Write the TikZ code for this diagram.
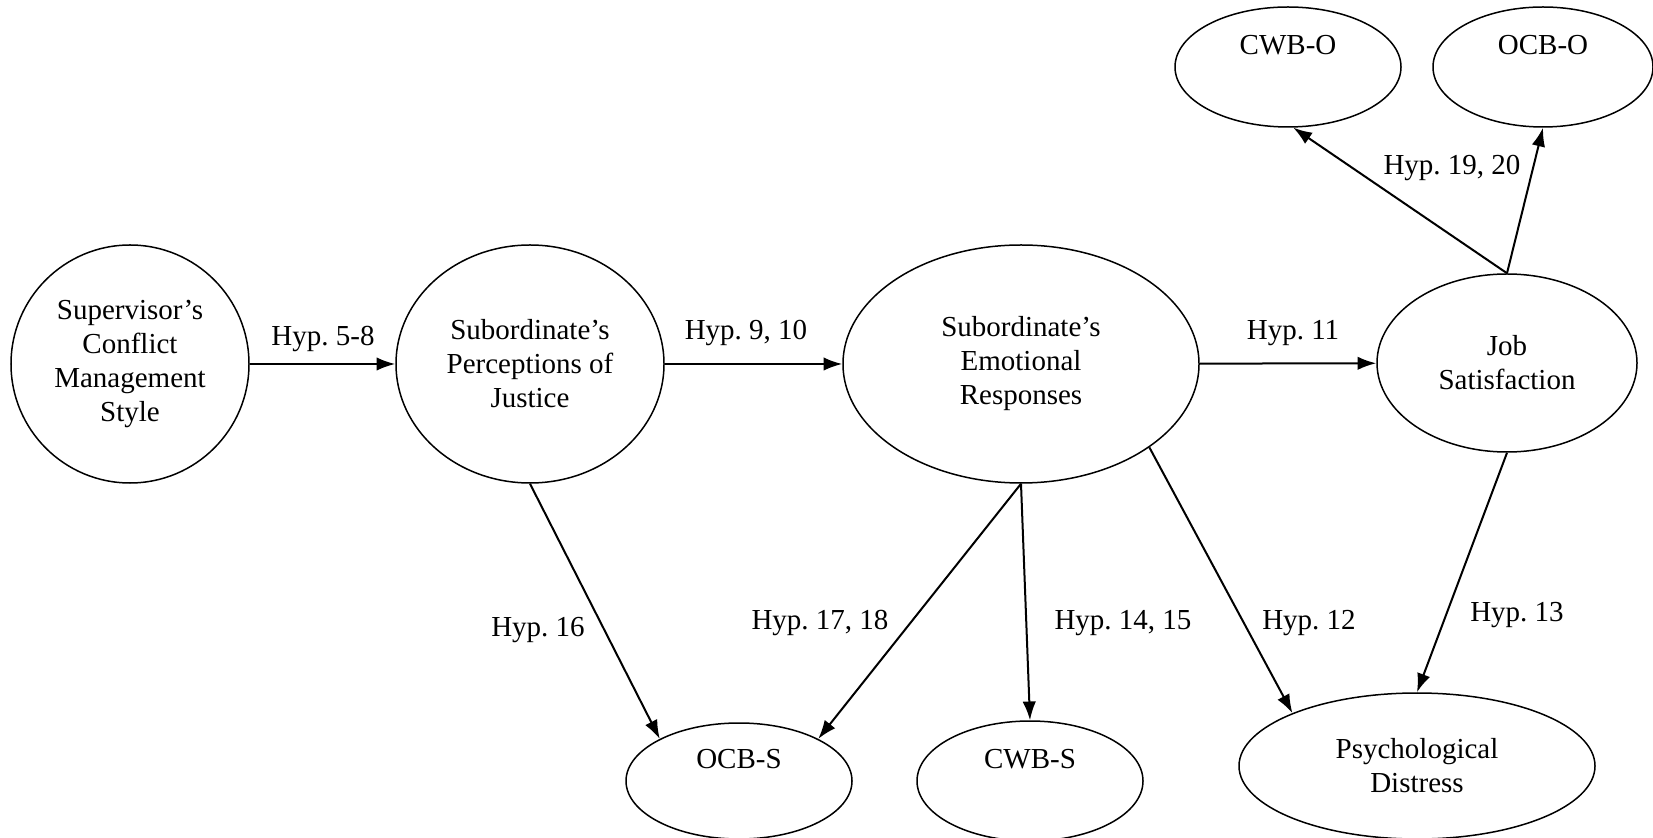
\documentclass[tikz,border=0pt]{standalone}
\usepackage{fontspec}
\setmainfont{Liberation Serif}
\usetikzlibrary{shapes.geometric,arrows.meta}
\frenchspacing

\begin{document}
\begin{tikzpicture}
                [x=0.4pt,y=-0.4pt,>={Latex[length=7.5pt,width=5.4pt]},
                 var/.style={draw,ellipse,line width=0.6pt,inner sep=0pt,align=center,font=\fontsize{11.6}{13.6}\selectfont},
                 ell/.style 2 args={minimum width=#1,minimum height=#2},
                 hyp/.style={font=\fontsize{11.6}{13.6}\selectfont},
                 arr/.style={->,line width=0.8pt}]

                \useasboundingbox (0,0) rectangle (1653,838);

                % main chain
                \node[var,ell={95.2pt}{95.2pt}] (sup) at (130,364) {Supervisor’s\\Conflict\\Management\\Style};
                \node[var,ell={107.2pt}{95.2pt}] (perc) at (530,364) {Subordinate’s\\Perceptions of\\Justice};
                \node[var,ell={142.4pt}{95.2pt}] (emo) at (1021,364) {Subordinate’s\\Emotional\\Responses};
                \node[var,ell={104pt}{71.2pt}] (job) at (1507,363) {Job\\Satisfaction};

                % outcomes
                \node[var,ell={90.4pt}{48pt}] (cwbo) at (1288,67) {CWB-O\\\strut};
                \node[var,ell={88pt}{48pt}] (ocbo) at (1543,67) {OCB-O\\\strut};
                \node[var,ell={90.4pt}{46.4pt}] (ocbs) at (739,781) {OCB-S\\\strut};
                \node[var,ell={90.4pt}{48pt}] (cwbs) at (1030,781) {CWB-S\\\strut};
                \node[var,ell={142.4pt}{58.4pt}] (psych) at (1417,766) {Psychological\\Distress};

                \draw[arr] (sup) -- (perc);
                \draw[arr] (perc) -- (emo);
                \draw[arr] (emo) -- (job);
                \draw[arr] (perc.south) -- (ocbs.152);
                \draw[arr] (emo.south) -- (ocbs.28);
                \draw[arr] (emo.south) -- (cwbs.north);
                \draw[arr] (emo.-33) -- (psych.157);
                \draw[arr] (job.south) -- (psych.north);
                \draw[arr] (job.north) -- (cwbo.-85);
                \draw[arr] (job.north) -- (ocbo.south);

                \node[hyp] (h58) at (323,339) {Hyp. 5-8};
                \node[hyp] (h910) at (746,333) {Hyp. 9, 10};
                \node[hyp] (h11) at (1293,333) {Hyp. 11};
                \node[hyp] (h16) at (538,630) {Hyp. 16};
                \node[hyp] (h1718) at (820,623) {Hyp. 17, 18};
                \node[hyp] (h1415) at (1123,623) {Hyp. 14, 15};
                \node[hyp] (h12) at (1309,623) {Hyp. 12};
                \node[hyp] (h13) at (1517,615) {Hyp. 13};
                \node[hyp] (h1920) at (1452,168) {Hyp. 19, 20};

            \end{tikzpicture}
\end{document}
